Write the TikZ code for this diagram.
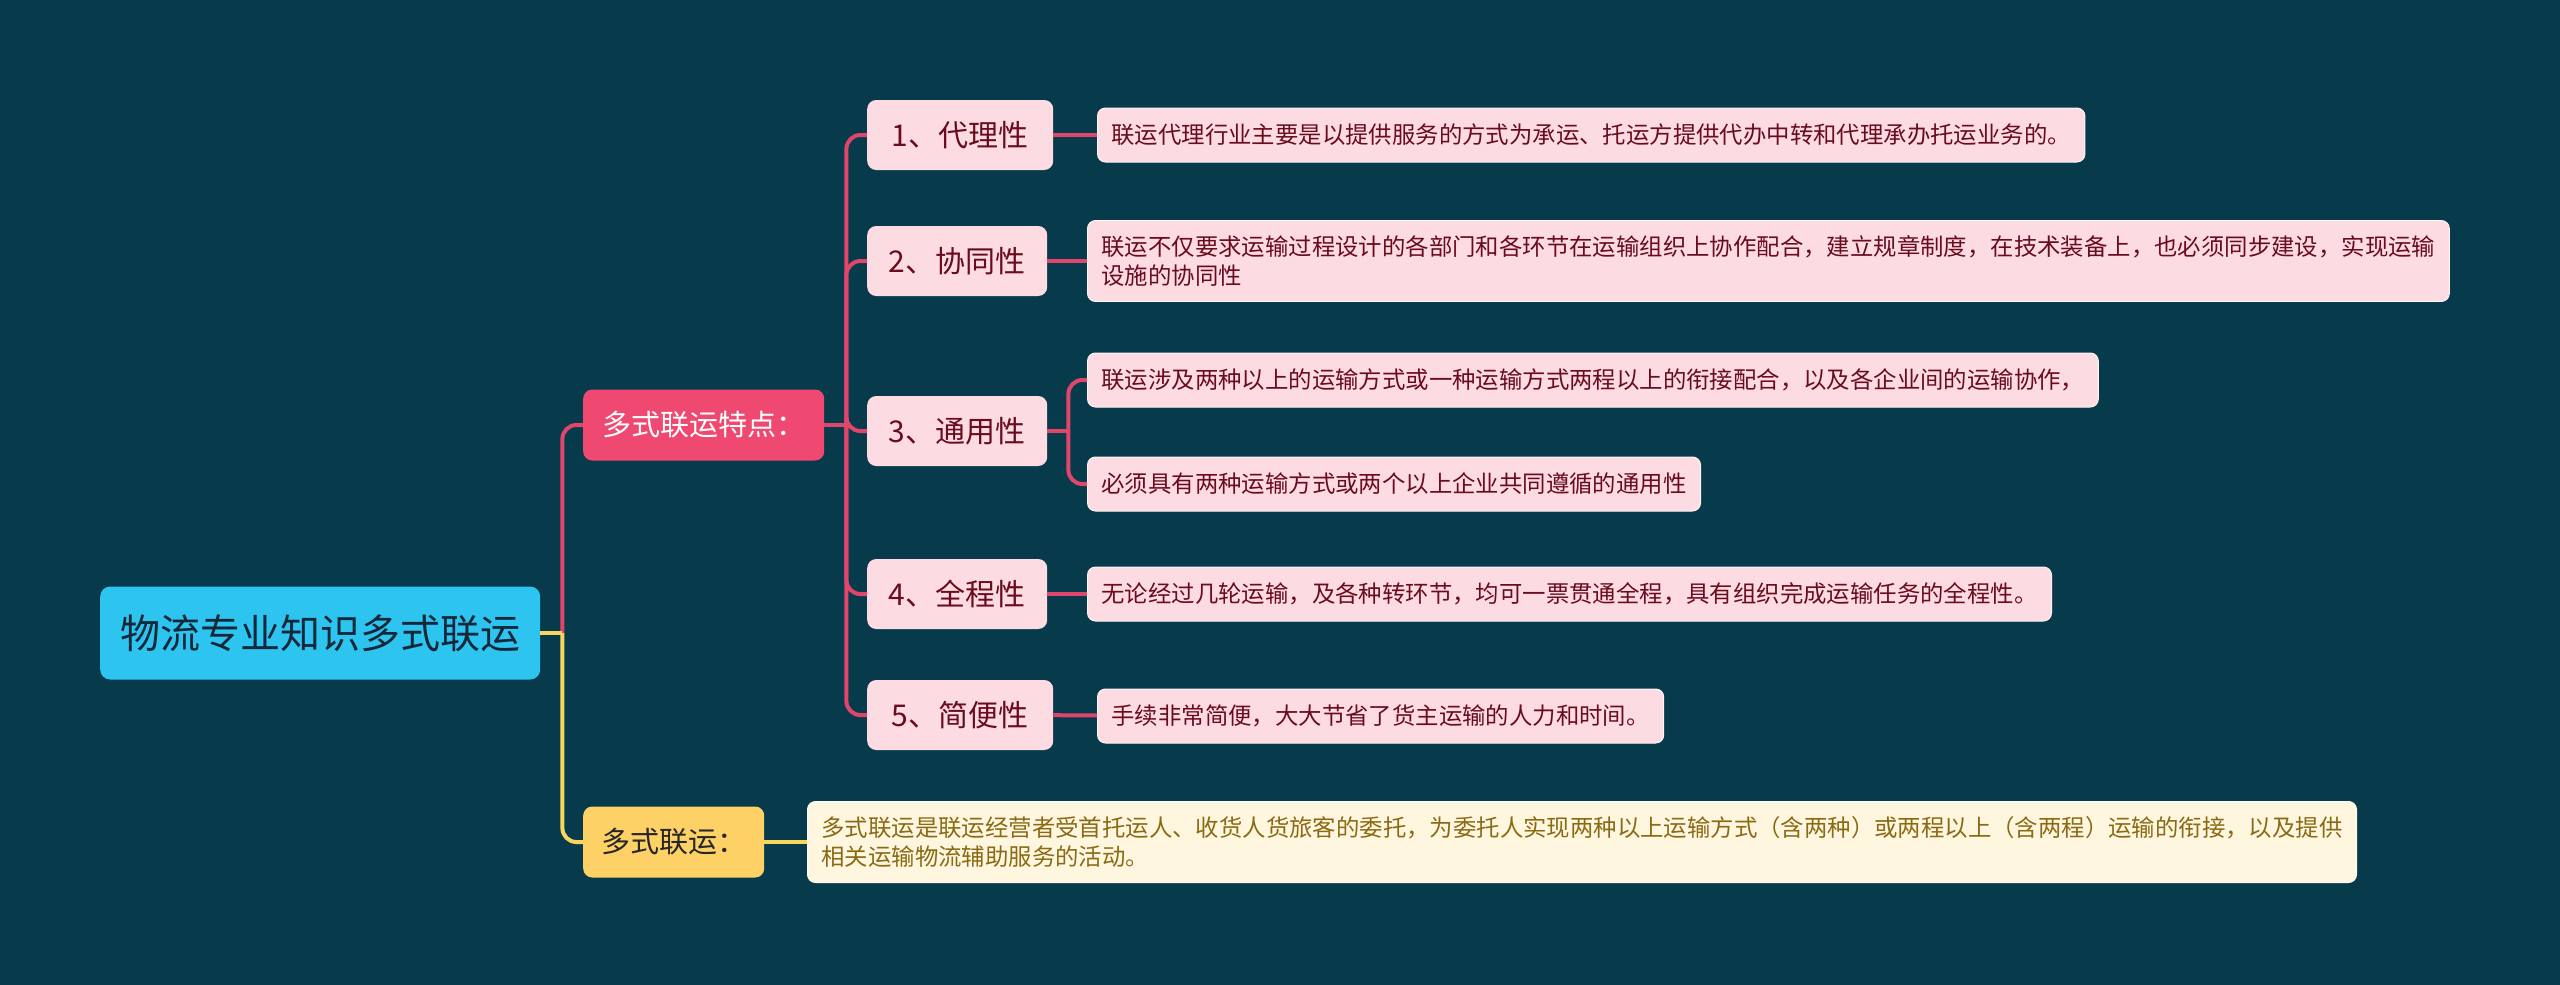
\documentclass[tikz,border=0pt]{standalone}
\usepackage{fontspec}
\setmainfont{Noto Sans CJK SC}

\definecolor{bgteal}{HTML}{073A4B}
\definecolor{rootblue}{HTML}{2EC4F0}
\definecolor{rootink}{HTML}{14283A}
\definecolor{redfill}{HTML}{EF4871}
\definecolor{redline}{HTML}{E0466B}
\definecolor{pinkfill}{HTML}{FDDBE2}
\definecolor{pinkink}{HTML}{6A0C1E}
\definecolor{yelfill}{HTML}{FDD166}
\definecolor{yelline}{HTML}{F8D65C}
\definecolor{creamfill}{HTML}{FEF6DE}
\definecolor{creamink}{HTML}{8A6A14}

\begin{document}
\begin{tikzpicture}[
    x=1pt, y=-1pt,
    rootbox/.style={
        rectangle, fill=rootblue, text=rootink, rounded corners=10pt,
        minimum width=440pt, minimum height=93pt, anchor=west,
        font=\fontsize{40}{48}\selectfont
    },
    topicbox/.style={
        rectangle, rounded corners=9pt, anchor=west,
        minimum height=71pt, font=\fontsize{29}{35}\selectfont
    },
    pointbox/.style={
        rectangle, fill=pinkfill, text=pinkink, rounded corners=9pt,
        minimum width=180pt, minimum height=70pt, anchor=west,
        font=\fontsize{30}{36}\selectfont
    },
    leafbox/.style={
        rectangle, fill=pinkfill, text=pinkink, draw=white!70!pinkfill,
        line width=1pt, rounded corners=8pt, anchor=west, align=left,
        inner xsep=14pt, inner ysep=15pt, minimum height=54pt,
        font=\fontsize{23.4}{29}\selectfont
    },
    redconn/.style={draw=redline, line width=4pt, rounded corners=14pt},
    yelconn/.style={draw=yelline, line width=4pt, rounded corners=14pt},
]

    % background and page size
    \fill[bgteal] (0,0) rectangle (2560,985);

    % Column x-coordinates.
    \def\xRoot{100}
    \def\xTopic{583}
    \def\xPoint{867}
    \def\xLeaf{1087}

    % ---------- root ----------
    \node[rootbox] (root) at (\xRoot, 633) {物流专业知识多式联运};

    % ---------- first level ----------
    \node[topicbox, fill=redfill, text=white, minimum width=241pt] (traits) at (\xTopic, 425) {多式联运特点：};
    \node[topicbox, fill=yelfill, text=black!85, minimum width=181pt] (define) at (\xTopic, 842) {多式联运：};

    % ---------- traits: five points ----------
    \node[pointbox, minimum width=186pt] (agency) at (\xPoint, 135) {1、代理性};
    \node[pointbox] (cooperate) at (\xPoint, 261) {2、协同性};
    \node[pointbox] (general) at (\xPoint, 431) {3、通用性};
    \node[pointbox] (whole) at (\xPoint, 594) {4、全程性};
    \node[pointbox, minimum width=186pt] (simple) at (\xPoint, 715) {5、简便性};

    % ---------- leaves ----------
    \node[leafbox] (agency-txt) at (1097, 135) {联运代理行业主要是以提供服务的方式为承运、托运方提供代办中转和代理承办托运业务的。};
    \node[leafbox] (cooperate-txt) at (\xLeaf, 261) {联运不仅要求运输过程设计的各部门和各环节在运输组织上协作配合，建立规章制度，在技术装备上，也必须同步建设，实现运输\\设施的协同性};
    \node[leafbox] (general-txt-a) at (\xLeaf, 380) {联运涉及两种以上的运输方式或一种运输方式两程以上的衔接配合，以及各企业间的运输协作，};
    \node[leafbox] (general-txt-b) at (\xLeaf, 484) {必须具有两种运输方式或两个以上企业共同遵循的通用性};
    \node[leafbox] (whole-txt) at (\xLeaf, 594) {无论经过几轮运输，及各种转环节，均可一票贯通全程，具有组织完成运输任务的全程性。};
    \node[leafbox] (simple-txt) at (1097, 716) {手续非常简便，大大节省了货主运输的人力和时间。};
    \node[leafbox, fill=creamfill, text=creamink, draw=white!60!creamfill] (define-txt) at (807, 842) {多式联运是联运经营者受首托运人、收货人货旅客的委托，为委托人实现两种以上运输方式（含两种）或两程以上（含两程）运输的衔接，以及提供\\相关运输物流辅助服务的活动。};

    % ---------- fork points on the trunks ----------
    \coordinate (root-fork) at ([xshift=22pt]root.east);
    \coordinate (traits-fork) at ([xshift=22pt]traits.east);
    \coordinate (general-fork) at ([xshift=21pt]general.east);

    % ---------- connectors ----------
    \draw[redconn] (root-fork) |- (traits.west);
    \draw[yelconn] (root-fork) |- (define.west);
    \draw[yelconn] (root.east) -- (root-fork);

    \draw[redconn] (traits.east) -- (traits-fork);
    \foreach \pt in {agency, cooperate, general, whole, simple}
        \draw[redconn] (traits-fork) |- (\pt.west);

    \draw[redconn] (agency) -- (agency-txt);
    \draw[redconn] (cooperate) -- (cooperate-txt);
    \draw[redconn] (general.east) -- (general-fork);
    \draw[redconn] (general-fork) |- (general-txt-a.west);
    \draw[redconn] (general-fork) |- (general-txt-b.west);
    \draw[redconn] (whole) -- (whole-txt);
    \draw[redconn] (simple) -- (simple-txt);
    \draw[yelconn] (define) -- (define-txt);

\end{tikzpicture}
\end{document}
